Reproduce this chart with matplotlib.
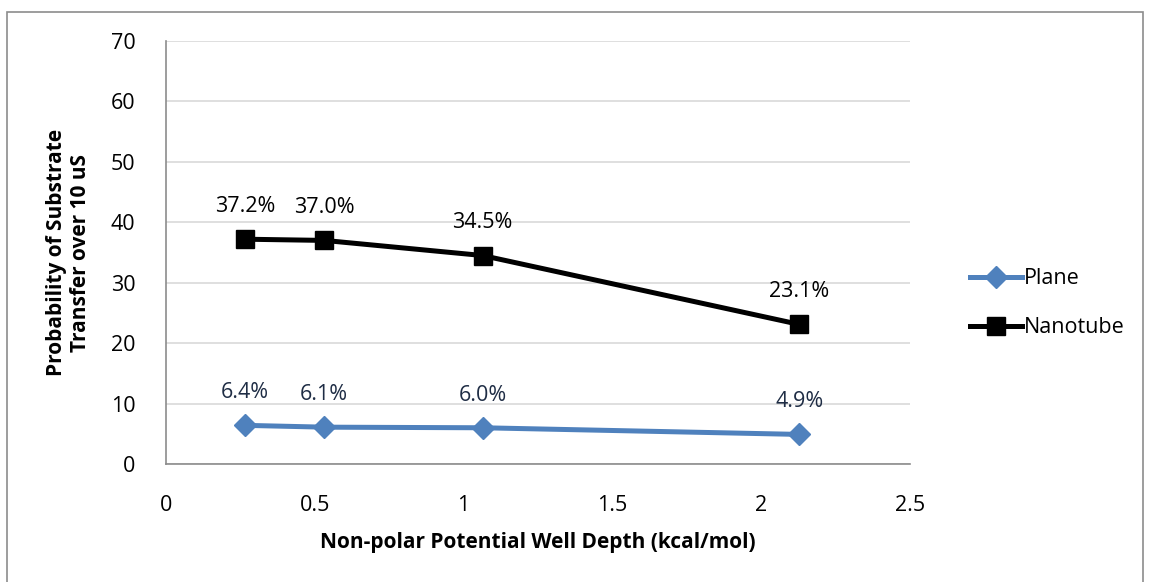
import matplotlib.pyplot as plt
from matplotlib.patches import Rectangle

# datos
profundidad = [0.266, 0.532, 1.064, 2.128]
plano = [6.4, 6.1, 6.0, 4.9]
nanotubo = [37.2, 37.0, 34.5, 23.1]
etiquetas_plano = ["6.4%", "6.1%", "6.0%", "4.9%"]
etiquetas_nanotubo = ["37.2%", "37.0%", "34.5%", "23.1%"]

plt.rcParams['font.family'] = ['Open Sans', 'DejaVu Sans']

fig = plt.figure(figsize=(11.5, 5.82), dpi=100)
ax = fig.add_axes([0.1443, 0.2027, 0.6470, 0.7269])

# borde exterior del grafico
fig.patches.append(Rectangle((7 / 1150, -0.01), 1136 / 1150, 1 - 12 / 582 + 0.01,
                             transform=fig.transFigure, fill=False,
                             edgecolor='#8c8c8c', linewidth=1.2))

azul = '#4F81BD'
ax.plot(profundidad, plano, color=azul, linewidth=3.6, marker='D',
        markersize=11, label='Plane', zorder=3)
ax.plot(profundidad, nanotubo, color='black', linewidth=3.6, marker='s',
        markersize=13, label='Nanotube', zorder=3)

for x, y, t in zip(profundidad, plano, etiquetas_plano):
    ax.annotate(t, (x, y), xytext=(0, 16), textcoords='offset points',
                ha='center', va='bottom', fontsize=15.5, color='#1F2D45')
for x, y, t in zip(profundidad, nanotubo, etiquetas_nanotubo):
    ax.annotate(t, (x, y), xytext=(0, 16), textcoords='offset points',
                ha='center', va='bottom', fontsize=15.5, color='black')

ax.set_xlim(0, 2.5)
ax.set_ylim(0, 70)
ax.set_xticks([0, 0.5, 1, 1.5, 2, 2.5])
ax.set_xticklabels(['0', '0.5', '1', '1.5', '2', '2.5'])
ax.set_yticks(range(0, 71, 10))
ax.tick_params(axis='both', length=0, labelsize=15.5)
ax.tick_params(axis='x', pad=22)
ax.tick_params(axis='y', pad=22)
ax.grid(axis='y', color='#d9d9d9', linewidth=1.2)
ax.set_axisbelow(True)
for lado in ['top', 'right']:
    ax.spines[lado].set_visible(False)
for lado in ['left', 'bottom']:
    ax.spines[lado].set_color('#8c8c8c')
    ax.spines[lado].set_linewidth(1.2)

ax.set_xlabel('Non-polar Potential Well Depth (kcal/mol)', fontsize=15,
              fontweight='bold', labelpad=12)
ax.set_ylabel('Probability of Substrate\nTransfer over 10 uS', fontsize=15,
              fontweight='bold', labelpad=14)

ax.legend(loc='center left', bbox_to_anchor=(1.055, 0.38), frameon=False,
          fontsize=15.5, handlelength=2.4, handletextpad=0.1, labelspacing=1.3)

plt.savefig('out.png', dpi=100)
